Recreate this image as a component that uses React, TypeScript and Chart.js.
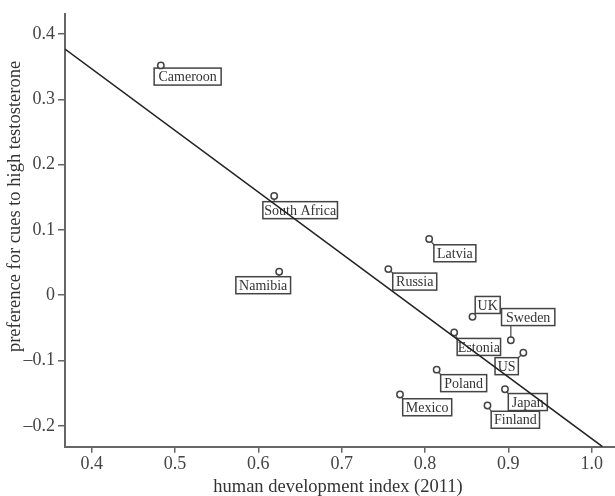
import React, { useEffect, useRef } from 'react';
import { Chart, registerables } from 'chart.js';

Chart.register(...registerables);

// ---- data ----
const countries = ['Cameroon', 'South Africa', 'Namibia', 'Latvia', 'Russia', 'UK', 'Sweden', 'Estonia', 'US', 'Poland', 'Japan', 'Finland', 'Mexico'];
const hdi = [0.483, 0.619, 0.625, 0.805, 0.756, 0.857, 0.903, 0.835, 0.918, 0.814, 0.896, 0.875, 0.770];
const preference = [0.352, 0.152, 0.036, 0.086, 0.040, -0.033, -0.069, -0.057, -0.088, -0.114, -0.144, -0.169, -0.152];

// regression line end points (where it meets the axes)
const fitX = [0.368, 1.013];
const fitY = [0.377, -0.232];

const xTicks = [0.4, 0.5, 0.6, 0.7, 0.8, 0.9, 1.0];
const xTickLabels = ['0.4', '0.5', '0.6', '0.7', '0.8', '0.9', '1.0'];
const yTicks = [-0.2, -0.1, 0, 0.1, 0.2, 0.3, 0.4];
const yTickLabels = ['\u20130.2', '\u20130.1', '0', '0.1', '0.2', '0.3', '0.4'];

const xTitle = 'human development index (2011)';
const yTitle = 'preference for cues to high testosterone';

// ---- label box layout (offset of box top-left from point, box width) ----
const labelLayout = [
  { dx: -6.7, dy: 2.7, w: 67 },
  { dx: -11.3, dy: 5.7, w: 74.6 },
  { dx: -43.3, dy: 5, w: 54.7 },
  { dx: 4.7, dy: 5.7, w: 42 },
  { dx: 4.4, dy: 4, w: 44 },
  { dx: 2.7, dy: -20.3, w: 25 },
  { dx: -9.3, dy: -31.7, w: 53.3 },
  { dx: 3, dy: 6, w: 43.4 },
  { dx: -28.3, dy: 5, w: 23.3 },
  { dx: 4, dy: 5, w: 46 },
  { dx: 3.3, dy: 4.3, w: 39 },
  { dx: 3.7, dy: 5.7, w: 48.3 },
  { dx: 2.7, dy: 4.3, w: 49 },
];
const BOX_H = 17;

const SERIF = '"Liberation Serif", "Times New Roman", "DejaVu Serif", serif';
const AXIS_COLOR = '#666';
const TITLE_FONT = `18.5px ${SERIF}`;

const labelPlugin = {
  id: 'countryLabels',
  beforeDatasetsDraw(chart: any) {
    const meta = chart.getDatasetMeta(1);
    const ctx = chart.ctx;
    ctx.save();
    ctx.font = `14px ${SERIF}`;
    meta.data.forEach((el: any, i: number) => {
      const b = labelLayout[i];
      const x0 = el.x + b.dx;
      const y0 = el.y + b.dy;
      const cx = Math.max(x0, Math.min(el.x, x0 + b.w));
      const cy = Math.max(y0, Math.min(el.y, y0 + BOX_H));
      ctx.strokeStyle = '#555';
      ctx.lineWidth = 1.3;
      ctx.beginPath();
      ctx.moveTo(el.x, el.y);
      ctx.lineTo(cx, cy);
      ctx.stroke();
      ctx.fillStyle = '#fff';
      ctx.fillRect(x0, y0, b.w, BOX_H);
      ctx.lineWidth = 1.5;
      ctx.strokeStyle = '#444';
      ctx.strokeRect(x0, y0, b.w, BOX_H);
      ctx.fillStyle = '#333';
      ctx.textAlign = 'center';
      ctx.textBaseline = 'middle';
      ctx.fillText(countries[i], x0 + b.w / 2, y0 + BOX_H / 2 + 1);
    });
    ctx.restore();
  },
};

const axisTitlePlugin = {
  id: 'axisTitles',
  afterDraw(chart: any) {
    const ctx = chart.ctx;
    ctx.save();
    ctx.font = TITLE_FONT;
    ctx.fillStyle = '#333';
    ctx.textAlign = 'center';
    ctx.textBaseline = 'middle';
    ctx.fillText(xTitle, 338, 487);
    ctx.translate(15, 206.5);
    ctx.rotate(-Math.PI / 2);
    ctx.fillText(yTitle, 0, 0);
    ctx.restore();
  },
};

export default function App() {
  const ref = useRef<HTMLCanvasElement | null>(null);

  useEffect(() => {
    if (!ref.current) return;
    const chart = new Chart(ref.current, {
      type: 'scatter',
      data: {
        datasets: [
          {
            label: 'fit',
            data: fitX.map((x, i) => ({ x, y: fitY[i] })),
            showLine: true,
            borderColor: '#222',
            borderWidth: 1.5,
            pointRadius: 0,
            fill: false,
          },
          {
            label: 'countries',
            data: hdi.map((x, i) => ({ x, y: preference[i] })),
            pointRadius: 3.2,
            pointBorderWidth: 1.5,
            pointBorderColor: '#444',
            pointBackgroundColor: '#fff',
          },
        ],
      },
      options: {
        animation: false,
        responsive: true,
        maintainAspectRatio: false,
        layout: { autoPadding: false, padding: { left: 0, right: 0, top: 12, bottom: 0 } },
        plugins: {
          legend: { display: false },
          tooltip: { enabled: false },
        },
        scales: {
          x: {
            type: 'linear',
            min: 0.368,
            max: 1.028,
            afterBuildTicks: (s: any) => {
              s.ticks = xTicks.map((v) => ({ value: v }));
            },
            afterFit: (s: any) => {
              s.height = 49.3;
            },
            grid: {
              drawOnChartArea: false,
              drawTicks: true,
              tickLength: 6,
              color: AXIS_COLOR,
              lineWidth: 1.5,
            },
            border: { display: true, color: AXIS_COLOR, width: 2 },
            ticks: {
              color: '#444',
              padding: 1,
              maxRotation: 0,
              font: { family: SERIF, size: 18 },
              callback: (_v: any, i: number) => xTickLabels[i],
            },
            title: { display: false },
          },
          y: {
            type: 'linear',
            min: -0.232,
            max: 0.431,
            afterBuildTicks: (s: any) => {
              s.ticks = yTicks.map((v) => ({ value: v }));
            },
            afterFit: (s: any) => {
              s.width = 65;
            },
            grid: {
              drawOnChartArea: false,
              drawTicks: true,
              tickLength: 7,
              color: AXIS_COLOR,
              lineWidth: 1.5,
            },
            border: { display: true, color: AXIS_COLOR, width: 2 },
            ticks: {
              color: '#444',
              padding: 3,
              font: { family: SERIF, size: 18 },
              callback: (_v: any, i: number) => yTickLabels[i],
            },
            title: { display: false },
          },
        },
      },
      plugins: [labelPlugin, axisTitlePlugin],
    } as any);
    return () => chart.destroy();
  }, []);

  return (
    <div style={{ position: 'absolute', left: 0, top: 0, width: 615, height: 496, background: '#fff' }}>
      <canvas ref={ref} />
    </div>
  );
}
